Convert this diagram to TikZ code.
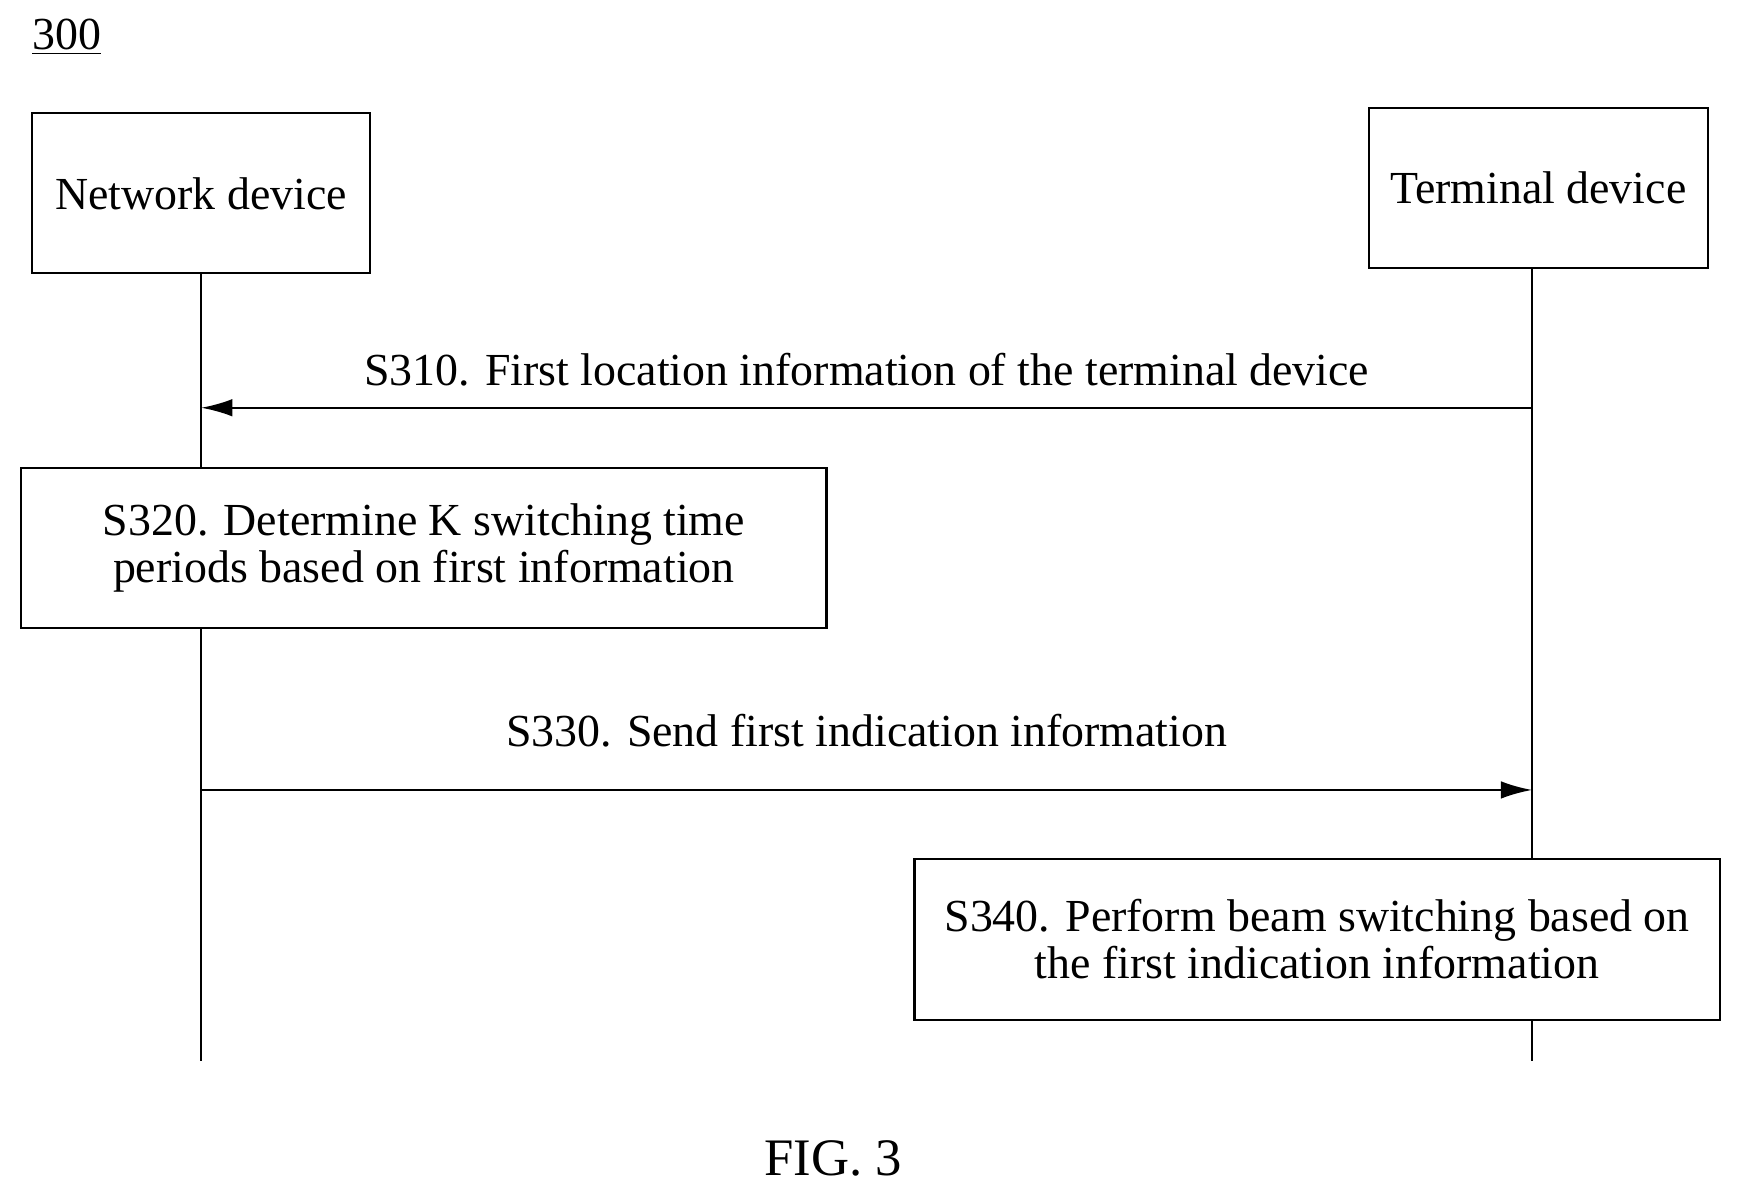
\documentclass[tikz,border=0pt]{standalone}
\usepackage{fontspec}
\setmainfont{Liberation Serif}
\usetikzlibrary{arrows.meta}
\begin{document}
\begin{tikzpicture}[x=0.02cm,y=-0.02cm,
  box/.style={draw,line width=1.2pt,fill=white,minimum width=#1*0.02cm,align=center,font=\fontsize{23.5}{24}\selectfont},
  lbl/.style={font=\fontsize{23.5}{26}\selectfont},
  line/.style={line width=1.2pt},
  arr/.style={line width=1.2pt,-{Latex[length=16pt,width=9pt]}}]
\useasboundingbox (0,0) rectangle (1567,1078);
\node[lbl] (num) at (60,33) {\underline{300}};
\coordinate (nt) at (181,246); \coordinate (nb) at (181,955);
\coordinate (tt) at (1379,241); \coordinate (tb) at (1379,955);
\draw[line] (nt) -- (nb);
\draw[line] (tt) -- (tb);
\node[box=304,minimum height=144*0.02cm] (net) at (181,174) {Network device};
\node[box=305,minimum height=144*0.02cm] (term) at (1384.5,169) {Terminal device};
\coordinate (a1s) at (1379,367); \coordinate (a1e) at (181,367);
\draw[arr] (a1s) -- node[lbl,above=7pt] (l1) {S310. First location information of the terminal device} (a1e);
\node[box=725,minimum height=144*0.02cm] (s320) at (381.5,493) {S320. Determine K switching time\\periods based on first information};
\coordinate (a2s) at (181,711); \coordinate (a2e) at (1379,711);
\draw[arr] (a2s) -- node[lbl,above=18pt] (l2) {S330. Send first indication information} (a2e);
\node[box=725,minimum height=145*0.02cm] (s340) at (1185.5,845.5) {S340. Perform beam switching based on\\the first indication information};
\node[font=\fontsize{27}{30}\selectfont] (fig) at (750,1043) {FIG. 3};
\end{tikzpicture}
\end{document}
